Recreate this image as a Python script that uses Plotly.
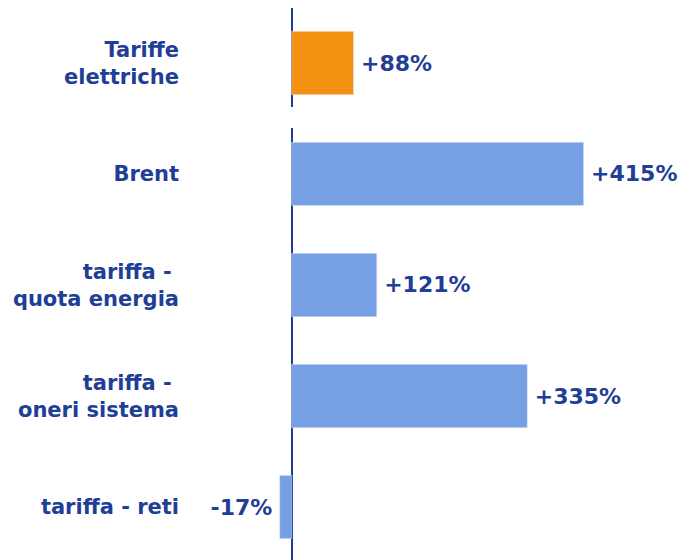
import plotly.graph_objects as go
from plotly.subplots import make_subplots

# data
top_labels = ['Tariffe<br>elettriche']
top_values = [88]

labels = ['Brent', 'tariffa - <br>quota energia', 'tariffa - <br>oneri sistema', 'tariffa - reti']
values = [415, 121, 335, -17]

TEXT_COLOR = '#1F3E96'
ORANGE = '#F39212'
BLUE = '#779FE3'


def fmt(v):
    # thin space to push the label a bit away from the bar
    return f'\u2009+{v}%' if v > 0 else f'{v}%\u2009'


fig = make_subplots(rows=2, cols=1, shared_xaxes=True)

fig.add_trace(go.Bar(
    y=top_labels, x=top_values, orientation='h', width=0.57,
    marker_color=ORANGE, text=[fmt(v) for v in top_values],
    textposition='outside', cliponaxis=False,
    textfont=dict(size=22, color=TEXT_COLOR, family='DejaVu Sans', weight='bold')
), row=1, col=1)

fig.add_trace(go.Bar(
    y=labels, x=values, orientation='h', width=0.57,
    marker_color=BLUE, text=[fmt(v) for v in values],
    textposition='outside', cliponaxis=False,
    textfont=dict(size=22, color=TEXT_COLOR, family='DejaVu Sans', weight='bold')
), row=2, col=1)

axis_x = dict(
    range=[-153, 560.5],
    showgrid=False, showticklabels=False, showline=False,
    zeroline=True, zerolinecolor=TEXT_COLOR, zerolinewidth=2
)
axis_y = dict(
    showgrid=False, showline=False, zeroline=False, ticks='',
    tickfont=dict(size=21, color=TEXT_COLOR, family='DejaVu Sans', weight='bold'),
    ticklabelstandoff=4
)

H = 552
fig.update_layout(
    width=678, height=H,
    margin=dict(l=176, r=0, t=0, b=0),
    paper_bgcolor='white', plot_bgcolor='white',
    showlegend=False,
    xaxis=axis_x,
    xaxis2=axis_x,
    yaxis=dict(axis_y, domain=[1 - 99 / H, 1], range=[0.396, -0.495]),
    yaxis2=dict(axis_y, domain=[0, 1 - 120 / H], range=[3.477, -0.414]),
)

fig.write_html('out.html')
